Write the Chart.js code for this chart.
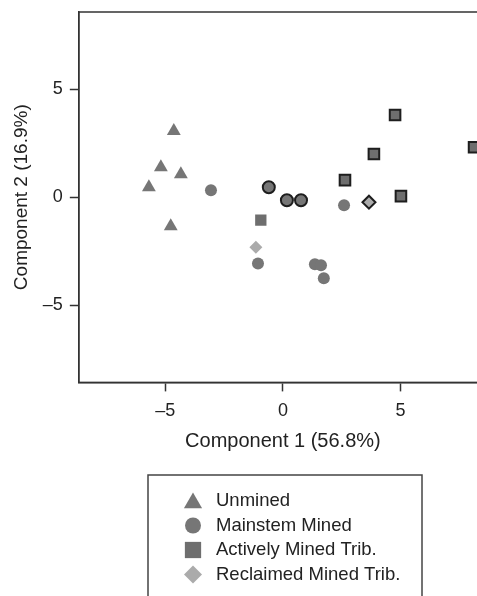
<!DOCTYPE html>
<html>
<head>
<meta charset="utf-8">
<script src="https://cdn.jsdelivr.net/npm/chart.js@4/dist/chart.umd.min.js"></script>
<style>
html, body { margin: 0; padding: 0; background: #fff; overflow: hidden; }
#wrap { position: relative; width: 510px; height: 596px; }
</style>
</head>
<body>
<div id="wrap"><canvas id="pca" width="510" height="596"></canvas></div>
<script>
// PCA scores: component 1 (x) and component 2 (y)
const unminedX = [-4.64, -5.19, -4.34, -5.70, -4.77];
const unminedY = [3.06, 1.39, 1.06, 0.46, -1.34];

const mainstemX = [-3.06, -1.06, 1.36, 1.62, 1.74, 2.60];
const mainstemY = [0.32, -3.06, -3.10, -3.15, -3.75, -0.37];
const mainstemOutlinedX = [-0.60, 0.17, 0.77];
const mainstemOutlinedY = [0.46, -0.14, -0.14];

const activeX = [-0.94];
const activeY = [-1.06];
const activeOutlinedX = [4.77, 3.87, 2.64, 5.02, 8.13];
const activeOutlinedY = [3.80, 2.00, 0.79, 0.05, 2.31];

const reclaimedX = [-1.15];
const reclaimedY = [-2.31];
const reclaimedOutlinedX = [3.66];
const reclaimedOutlinedY = [-0.23];

const groupNames = ['Unmined', 'Mainstem Mined', 'Actively Mined Trib.', 'Reclaimed Mined Trib.'];
const xTicks = [-5, 0, 5];
const yTicks = [-5, 0, 5];

const FONT = '"Liberation Sans", Arial, Helvetica, sans-serif';
const MARK = '#767676';
const LIGHT = '#ababab';
const EDGE = '#1e1e1e';

function pts(xs, ys) {
    return xs.map((x, i) => ({ x: x, y: ys[i] }));
}

function fmt(v) {
    return v < 0 ? '\u2013' + Math.abs(v) : '' + v;
}

// frame round the plot area
const frame = {
    id: 'frame',
    beforeDatasetsDraw(chart) {
        const a = chart.chartArea;
        const ctx = chart.ctx;
        ctx.save();
        ctx.strokeStyle = '#333';
        ctx.lineWidth = 1.5;
        ctx.strokeRect(a.left, a.top, a.right - a.left, a.bottom - a.top);
        ctx.restore();
    }
};

// boxed legend under the plot
const boxLegend = {
    id: 'boxLegend',
    afterDraw(chart) {
        const ctx = chart.ctx;
        ctx.save();
        ctx.strokeStyle = '#444';
        ctx.lineWidth = 1.5;
        ctx.strokeRect(148, 475, 274, 160);
        const sizes = { triangle: 10.5, circle: 8, rect: 11.5, rectRot: 9 };
        groupNames.forEach(function (name, i) {
            const ds = chart.data.datasets.find(d => d.label === name);
            const y = 501 + i * 24.5;
            ctx.fillStyle = ds.backgroundColor;
            ctx.strokeStyle = ds.backgroundColor;
            Chart.helpers.drawPoint(ctx, {
                pointStyle: ds.pointStyle,
                radius: sizes[ds.pointStyle],
                rotation: 0,
                borderWidth: 0
            }, 193, y + (ds.pointStyle === 'triangle' ? 2 : 0));
            ctx.fillStyle = '#222';
            ctx.font = '18.5px ' + FONT;
            ctx.textBaseline = 'middle';
            ctx.textAlign = 'left';
            ctx.fillText(name, 216, y);
        });
        ctx.restore();
    }
};

const datasets = [
    { label: 'Unmined', data: pts(unminedX, unminedY), pointStyle: 'triangle', radius: 8,
      backgroundColor: MARK, borderColor: MARK, borderWidth: 0 },
    { label: 'Mainstem Mined', data: pts(mainstemX, mainstemY), pointStyle: 'circle', radius: 6,
      backgroundColor: MARK, borderColor: MARK, borderWidth: 0 },
    { label: 'Mainstem Mined (outlined)', data: pts(mainstemOutlinedX, mainstemOutlinedY), pointStyle: 'circle', radius: 6,
      backgroundColor: MARK, borderColor: EDGE, borderWidth: 2 },
    { label: 'Actively Mined Trib.', data: pts(activeX, activeY), pointStyle: 'rect', radius: 8,
      backgroundColor: '#6e6e6e', borderColor: '#6e6e6e', borderWidth: 0 },
    { label: 'Actively Mined Trib. (outlined)', data: pts(activeOutlinedX, activeOutlinedY), pointStyle: 'rect', radius: 7.5,
      backgroundColor: '#6e6e6e', borderColor: EDGE, borderWidth: 2 },
    { label: 'Reclaimed Mined Trib.', data: pts(reclaimedX, reclaimedY), pointStyle: 'rectRot', radius: 6.5,
      backgroundColor: LIGHT, borderColor: LIGHT, borderWidth: 0 },
    { label: 'Reclaimed Mined Trib. (outlined)', data: pts(reclaimedOutlinedX, reclaimedOutlinedY), pointStyle: 'rectRot', radius: 6.5,
      backgroundColor: LIGHT, borderColor: EDGE, borderWidth: 2 }
];

new Chart(document.getElementById('pca'), {
    type: 'scatter',
    data: { datasets: datasets },
    options: {
        responsive: false,
        animation: false,
        layout: { padding: { left: 10, top: 12, right: 23, bottom: 143 } },
        plugins: {
            legend: { display: false },
            tooltip: { enabled: false }
        },
        scales: {
            x: {
                type: 'linear',
                min: -8.68,
                max: 8.68,
                afterBuildTicks: s => { s.ticks = xTicks.map(v => ({ value: v })); },
                ticks: { font: { size: 18, family: FONT }, color: '#222', padding: 9, callback: fmt },
                grid: { drawOnChartArea: false, drawTicks: true, tickLength: 9, tickWidth: 1.5, tickColor: '#333' },
                border: { display: true, color: '#333', width: 1.5 },
                title: { display: true, text: 'Component 1 (56.8%)', font: { size: 20, family: FONT }, color: '#222', padding: { top: -2, bottom: 0 } }
            },
            y: {
                type: 'linear',
                min: -8.56,
                max: 8.56,
                afterBuildTicks: s => { s.ticks = yTicks.map(v => ({ value: v })); },
                // tick labels sit well inside the range, so no extra room at the ends
                afterFit: s => { s.paddingTop = 0; s.paddingBottom = 0; },
                ticks: { font: { size: 18, family: FONT }, color: '#222', padding: 7, callback: fmt },
                grid: { drawOnChartArea: false, drawTicks: true, tickLength: 9, tickWidth: 1.5, tickColor: '#333' },
                border: { display: true, color: '#333', width: 1.5 },
                title: { display: true, text: 'Component 2 (16.9%)', font: { size: 19, family: FONT }, color: '#222', padding: { top: 0, bottom: 3 } }
            }
        }
    },
    plugins: [frame, boxLegend]
});
</script>
</body>
</html>
